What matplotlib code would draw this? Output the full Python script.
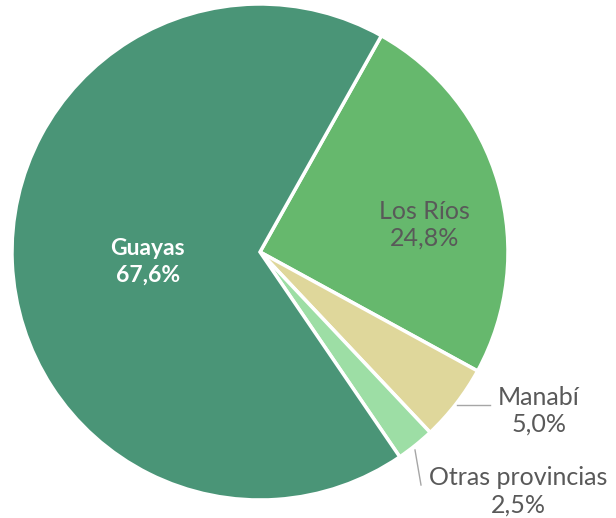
import numpy as np
import matplotlib
matplotlib.use("Agg")
from matplotlib import pyplot as plt

plt.rcParams['font.family'] = ['Lato', 'DejaVu Sans']

####

labels = ['Los Ríos', 'Manabí', 'Otras provincias', 'Guayas']
shares = [24.8, 5.0, 2.5, 67.6]
colors = ['#66b86d', '#dfd79b', '#9ddea5', '#4a9577']

####

fig = plt.figure(figsize=(6.16, 5.18), dpi=100)
ax = fig.add_axes([0, 0, 1, 1])

wedges, _ = ax.pie(shares, colors=colors, startangle=60.7, counterclock=False,
                   radius=1.0, wedgeprops=dict(edgecolor='white', linewidth=2.5))

ax.set_xlim(-260 / 248, (616 - 260) / 248)
ax.set_ylim(-(518 - 252) / 248, 252 / 248)
ax.set_aspect('auto')
ax.axis('off')

def pct(v):
    return ('%.1f%%' % v).replace('.', ',')

gray = '#595959'
# labels: Los Ríos inside, Guayas inside bold white, others outside
ax.text(0.665, 0.11, labels[0] + '\n' + pct(shares[0]), ha='center', va='center',
        fontsize=18, color=gray, linespacing=1.2)
ax.text(-0.452, -0.04, labels[3] + '\n' + pct(shares[3]), ha='center', va='center',
        fontsize=16.5, color='white', fontweight='bold', linespacing=1.3)
ax.text(1.125, -0.64, labels[1] + '\n' + pct(shares[1]), ha='center', va='center',
        fontsize=18, color=gray, linespacing=1.2)
ax.text(1.04, -0.965, labels[2] + '\n' + pct(shares[2]), ha='center', va='center',
        fontsize=18, color=gray, linespacing=1.2)

# leader lines
ax.plot([(457 - 260) / 248, (490 - 260) / 248], [-(405 - 252) / 248, -(405 - 252) / 248],
        color='#a6a6a6', lw=1)
ax.plot([(415 - 260) / 248, (421 - 260) / 248], [-(450 - 252) / 248, -(485 - 252) / 248],
        color='#a6a6a6', lw=1)

fig.savefig('out.png', dpi=100)
